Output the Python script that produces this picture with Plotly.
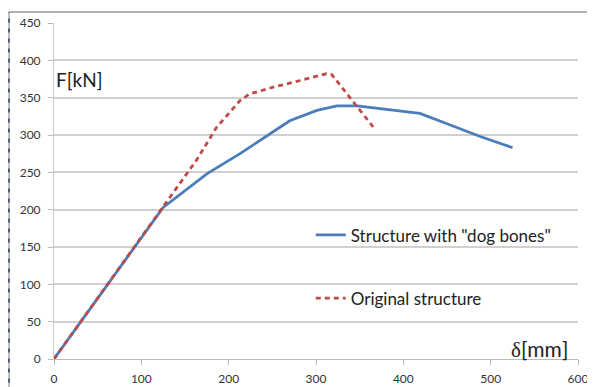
import plotly.graph_objects as go

# Structure with "dog bones"
dog_x = [0, 125, 175, 213, 244, 270, 301, 324, 347, 377, 400, 419, 450, 488, 525]
dog_y = [0, 203, 248, 275, 299, 319, 333, 339, 339, 335, 331, 329, 315, 298, 283]

# Original structure
orig_x = [0, 125, 163, 186, 213, 224, 251, 282, 312, 318, 368]
orig_y = [0, 203, 266, 310, 346, 355, 364, 373, 382, 381, 307]

x_ticks = [0, 100, 200, 300, 400, 500, 600]
y_ticks = [0, 50, 100, 150, 200, 250, 300, 350, 400, 450]

FONT = "Lato, 'Noto Sans', sans-serif"

fig = go.Figure()
fig.add_trace(go.Scatter(x=dog_x, y=dog_y, mode="lines", name='Structure with "dog bones"',
                         line=dict(color="#4a7ebb", width=2.8), legend="legend", showlegend=True))
fig.add_trace(go.Scatter(x=orig_x, y=orig_y, mode="lines", name="Original structure",
                         line=dict(color="#be4b48", width=2.8, dash="5px,4px"), legend="legend2",
                         showlegend=True))

# page body has an 8px margin: figure is sized so that it fits the 595x387 window
fig.update_layout(
    width=587, height=379,
    margin=dict(l=46, r=17, t=15, b=28, autoexpand=False),
    paper_bgcolor="white", plot_bgcolor="white",
    font=dict(family=FONT, size=12, color="#333"),
    legend=dict(x=0.49, y=0.368, xanchor="left", yanchor="middle", bgcolor="rgba(0,0,0,0)",
                font=dict(size=17, color="#222")),
    legend2=dict(x=0.49, y=0.18, xanchor="left", yanchor="middle", bgcolor="rgba(0,0,0,0)",
                 font=dict(size=17, color="#222")),
    xaxis=dict(range=[0, 600], tickvals=x_ticks, showgrid=False, zeroline=False, automargin=False,
               showline=True, linecolor="#bbbbbb", linewidth=1,
               ticks="outside", ticklen=5, tickcolor="#bbbbbb", ticklabelstandoff=4,
               tickfont=dict(size=12, color="#333")),
    yaxis=dict(range=[0, 450], tickvals=y_ticks, showgrid=True, gridcolor="#d0d0d0", gridwidth=1.5,
               zeroline=False, showline=True, linecolor="#cccccc", linewidth=1, automargin=False,
               ticks="outside", ticklen=5, tickcolor="#bbbbbb", ticklabelstandoff=5,
               tickfont=dict(size=12, color="#333")),
)

fig.add_annotation(text="F[kN]", xref="paper", yref="paper", x=0.0, y=0.832,
                   xanchor="left", yanchor="middle", showarrow=False,
                   font=dict(size=19, color="#222", family=FONT))
fig.add_annotation(text="δ<span style=\"font-family:Lato\">[mm]</span>", xref="paper", yref="paper",
                   x=0.985, y=0.0, xanchor="right", yanchor="bottom", yshift=-5, showarrow=False,
                   font=dict(size=21, color="#222", family="'Liberation Serif', serif"))

# outer frame lines
fig.add_shape(type="line", xref="paper", yref="paper", x0=-0.0859, x1=1.05, y0=1.0328, y1=1.0328,
              line=dict(color="#999999", width=1.5))
fig.add_shape(type="line", xref="paper", yref="paper", x0=-0.0859, x1=-0.0859, y0=-0.1, y1=1.0328,
              line=dict(color="#aaaaaa", width=1.5))
fig.add_shape(type="line", xref="paper", yref="paper", x0=-0.0859, x1=-0.0859, y0=-0.1, y1=1.0328,
              line=dict(color="#2a3f6a", width=1.5, dash="4px,6px"))

fig.write_html("out.html")
